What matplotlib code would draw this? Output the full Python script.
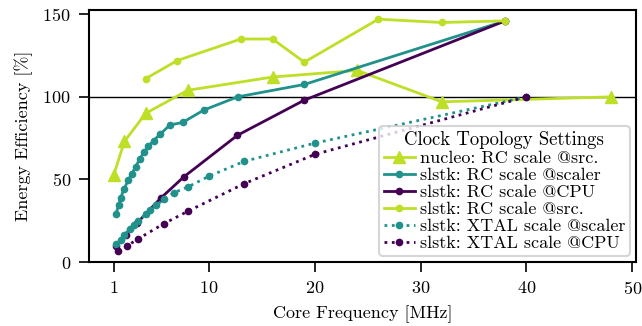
import matplotlib
matplotlib.use("Agg")
import matplotlib.pyplot as plt

plt.rcParams['font.family'] = ['cmr10', 'DejaVu Serif']
plt.rcParams['axes.formatter.use_mathtext'] = True
plt.rcParams['mathtext.fontset'] = 'cm'

# ---- data ----
nucleo_rc_src_x = [1, 2, 4, 8, 16, 24, 32, 48]
nucleo_rc_src_y = [53, 73, 90, 104, 112, 116, 97, 100]

slstk_rc_scaler_x = [1.2, 1.45, 1.65, 1.95, 2.35, 2.7, 3.05, 3.45, 3.85, 4.25,
                     4.75, 5.4, 6.3, 7.5, 9.5, 12.7, 19, 38]
slstk_rc_scaler_y = [29, 34.5, 39, 44, 49.5, 53.5, 57.5, 62.5, 66.5, 70,
                     73.5, 77.5, 83, 84.5, 92, 100, 107.5, 146]

slstk_rc_cpu_x = [1.19, 2.11, 3.17, 5.43, 7.6, 12.67, 19, 38]
slstk_rc_cpu_y = [10, 16.5, 23.5, 38.7, 51.5, 76.7, 98, 146]

slstk_rc_src_x = [4, 7, 13, 16, 19, 26, 32, 38]
slstk_rc_src_y = [111, 122, 135, 135, 121, 147, 145, 146]

slstk_xtal_scaler_x = [1.25, 1.67, 2.0, 2.5, 2.86, 3.33, 4.0, 4.44, 5.0, 5.71,
                       6.67, 8.0, 10, 13.33, 20, 40]
slstk_xtal_scaler_y = [11, 13.5, 16.5, 20, 22.5, 25, 29, 31.5, 34.3, 38,
                       42, 45.5, 52, 61, 72, 100]

slstk_xtal_cpu_x = [1.43, 2.22, 3.33, 5.71, 8, 13.33, 20, 40]
slstk_xtal_cpu_y = [7, 9.7, 14.2, 23.2, 30.8, 47.5, 65.2, 100]

labels = ["nucleo: RC scale @src.",
          "slstk: RC scale @scaler",
          "slstk: RC scale @CPU",
          "slstk: RC scale @src.",
          "slstk: XTAL scale @scaler",
          "slstk: XTAL scale @CPU"]

xticks = [1, 10, 20, 30, 40, 50]
yticks = [0, 50, 100, 150]

c_green = '#bddf26'
c_teal = '#21918c'
c_purple = '#440154'

fig = plt.figure(figsize=(6.42, 3.26), dpi=100)
ax = fig.add_axes([0.1386, 0.196, 0.852, 0.773])

ax.axhline(100, color='black', lw=1.0, zorder=1)

lw = 2.0
ax.plot(nucleo_rc_src_x, nucleo_rc_src_y, color=c_green, lw=lw, marker='^',
        markersize=9, label=labels[0], zorder=3)
ax.plot(slstk_rc_scaler_x, slstk_rc_scaler_y, color=c_teal, lw=lw, marker='o',
        markersize=4.5, label=labels[1], zorder=3)
ax.plot(slstk_rc_cpu_x, slstk_rc_cpu_y, color=c_purple, lw=lw, marker='o',
        markersize=4.5, label=labels[2], zorder=3)
ax.plot(slstk_rc_src_x, slstk_rc_src_y, color=c_green, lw=lw, marker='o',
        markersize=4.5, label=labels[3], zorder=3)
ax.plot(slstk_xtal_scaler_x, slstk_xtal_scaler_y, color=c_teal, lw=lw, ls=':',
        marker='o', markersize=4.5, label=labels[4], zorder=3)
ax.plot(slstk_xtal_cpu_x, slstk_xtal_cpu_y, color=c_purple, lw=lw, ls=':',
        marker='o', markersize=4.5, label=labels[5], zorder=3)

ax.set_xticks(xticks)
ax.set_yticks(yticks)
ax.set_xlim(-1.35, 50.35)
ax.set_ylim(0, 152.5)
ax.tick_params(direction='out', length=7, width=1.2, labelsize=13, pad=6)
for s in ax.spines.values():
    s.set_linewidth(1.5)

ax.set_xlabel("Core Frequency [MHz]", fontsize=13, labelpad=6)
ax.set_ylabel("Energy Efficiency [%]", fontsize=13, labelpad=7)

leg = ax.legend(title="Clock Topology Settings", loc='lower right',
                fontsize=13, title_fontsize=13.5, framealpha=0.8,
                edgecolor='#cccccc', borderpad=0.25, labelspacing=0.08,
                handlelength=1.75, handletextpad=0.25, borderaxespad=0.35)
leg.get_frame().set_linewidth(1.5)

fig.savefig("out.png", dpi=100)
